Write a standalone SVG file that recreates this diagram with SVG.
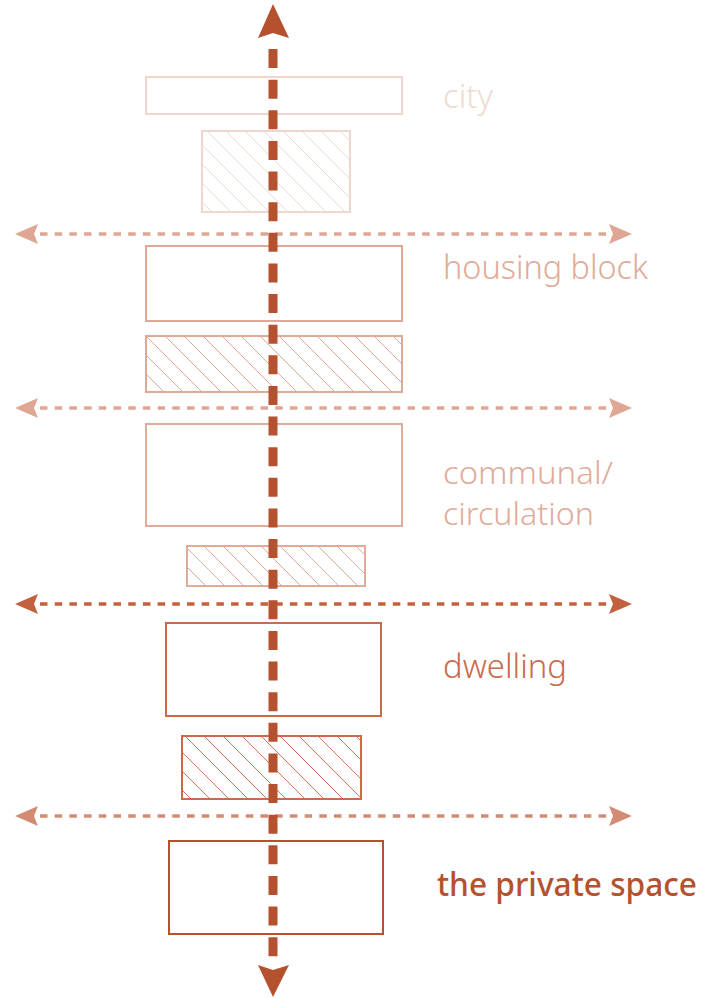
<svg xmlns="http://www.w3.org/2000/svg" width="703" height="998" viewBox="0 0 703 998">
<style>
.lbl{font-family:"Noto Sans","Liberation Sans",sans-serif;font-size:32.5px;font-weight:300}
.box{fill:#ffffff;stroke-width:2}
.hz{fill:none;stroke-width:3.3;stroke-dasharray:7.5 7.2}
</style>
<defs>
<pattern id="h1" width="19" height="19" patternUnits="userSpaceOnUse"><path d="M-2,-2 L21,21 M-5,14 L5,24 M14,-5 L24,5" stroke="#f0d8ce" stroke-width="1"/></pattern>
<pattern id="h2" width="19" height="19" patternUnits="userSpaceOnUse"><path d="M-2,-2 L21,21 M-5,14 L5,24 M14,-5 L24,5" stroke="#dfa997" stroke-width="1"/></pattern>
<pattern id="h3" width="19" height="19" patternUnits="userSpaceOnUse"><path d="M-2,-2 L21,21 M-5,14 L5,24 M14,-5 L24,5" stroke="#e0ab9a" stroke-width="1"/></pattern>
<pattern id="h4" width="19" height="19" patternUnits="userSpaceOnUse"><path d="M-2,-2 L21,21 M-5,14 L5,24 M14,-5 L24,5" stroke="#cd7357" stroke-width="1"/></pattern>
</defs>
<rect width="703" height="998" fill="#ffffff"/>
<g id="city">
<rect class="box" x="146" y="77" width="256" height="37" stroke="#f0d6cc"/>
<rect x="202" y="131" width="148" height="81" fill="url(#h1)" stroke="#f0d6cc" stroke-width="2"/>
<text class="lbl" x="443" y="108" fill="#f1dad1" textLength="50" lengthAdjust="spacingAndGlyphs">city</text>
</g>
<g id="housing-block">
<rect class="box" x="146" y="246" width="256" height="75" stroke="#dfa997"/>
<rect x="146" y="336" width="256" height="56" fill="url(#h2)" stroke="#dfa997" stroke-width="2"/>
<text class="lbl" x="443" y="279" fill="#e0ab99" textLength="205" lengthAdjust="spacingAndGlyphs">housing block</text>
</g>
<g id="communal">
<rect class="box" x="146" y="424" width="256" height="102" stroke="#e0ab9a"/>
<rect x="187" y="546" width="178" height="40" fill="url(#h3)" stroke="#e0ab9a" stroke-width="2"/>
<text class="lbl" x="443" y="483.5" fill="#e0ab99" style="font-size:30.5px" textLength="170" lengthAdjust="spacingAndGlyphs">communal/</text>
<text class="lbl" x="443" y="525" fill="#e0ab99" style="font-size:30.5px" textLength="151" lengthAdjust="spacingAndGlyphs">circulation</text>
</g>
<g id="dwelling">
<rect class="box" x="166" y="623" width="215" height="93" stroke="#c96a4d"/>
<rect x="182" y="736" width="179" height="63" fill="url(#h4)" stroke="#c96a4d" stroke-width="2"/>
<text class="lbl" x="443" y="678" fill="#c96a4d" textLength="124" lengthAdjust="spacingAndGlyphs">dwelling</text>
</g>
<g id="private-space">
<rect class="box" x="169" y="841" width="214" height="93" stroke="#b5512f"/>
<text class="lbl" x="437" y="896" fill="#b5512f" style="font-weight:500" textLength="260" lengthAdjust="spacingAndGlyphs">the private space</text>
</g>
<g id="connectors">
<g stroke="#dfa694" fill="#dfa694">
<line class="hz" x1="40" y1="234" x2="611" y2="234"/>
<polygon points="15,234 38,224 34,234 38,244" stroke="none"/>
<polygon points="632,234 609,224 613,234 609,244" stroke="none"/>
</g>
<g stroke="#dfa694" fill="#dfa694">
<line class="hz" x1="40" y1="408" x2="611" y2="408"/>
<polygon points="15,408 38,398 34,408 38,418" stroke="none"/>
<polygon points="632,408 609,398 613,408 609,418" stroke="none"/>
</g>
<g stroke="#c3603f" fill="#c3603f">
<line class="hz" x1="40" y1="604" x2="611" y2="604"/>
<polygon points="15,604 38,594 34,604 38,614" stroke="none"/>
<polygon points="632,604 609,594 613,604 609,614" stroke="none"/>
</g>
<g stroke="#d38c74" fill="#d38c74">
<line class="hz" x1="40" y1="816" x2="611" y2="816"/>
<polygon points="15,816 38,806 34,816 38,826" stroke="none"/>
<polygon points="632,816 609,806 613,816 609,826" stroke="none"/>
</g>
<g id="vertical-axis" fill="#b5512f">
<line x1="273" y1="49" x2="273" y2="956.5" stroke="#b5512f" stroke-width="9" stroke-dasharray="19 11.625"/>
<polygon points="273,4 289,38 273,33 258,38"/>
<polygon points="273,997 289,965 273,970 258,965"/>
</g>
</g>
</svg>
